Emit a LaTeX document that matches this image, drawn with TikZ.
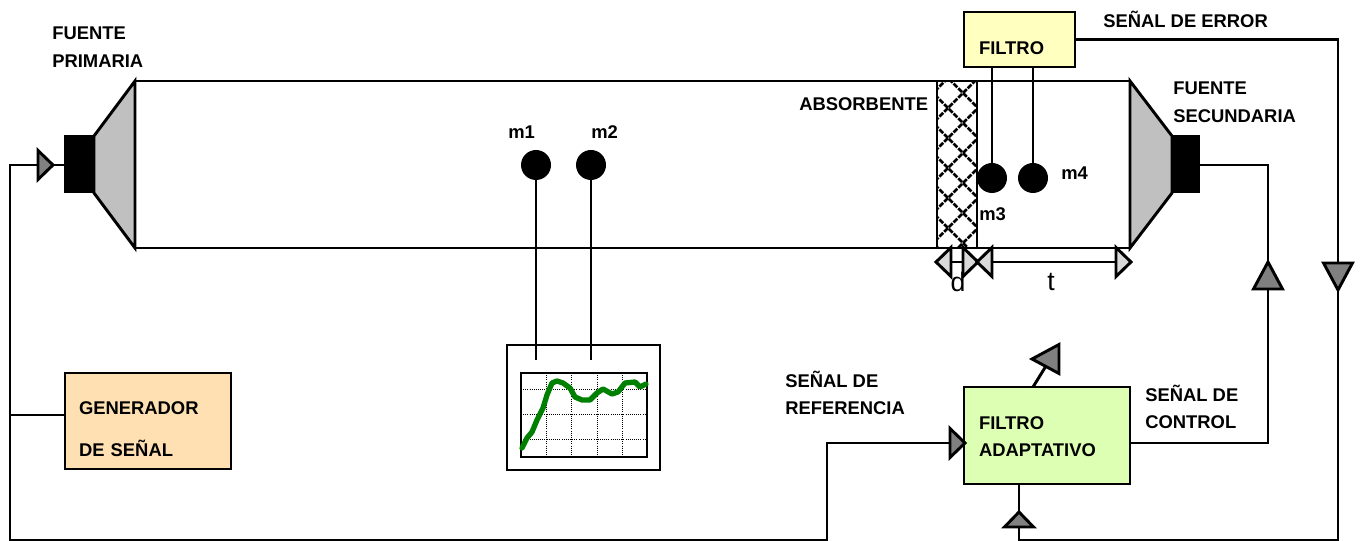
\documentclass[tikz,border=0pt]{standalone}
\usepackage{fontspec}
\setmainfont{Liberation Sans}
\usetikzlibrary{shapes.geometric}
\def\px{0.75pt}
\definecolor{colfiltro}{HTML}{FFFFBF}
\definecolor{colgen}{HTML}{FFE0B3}
\definecolor{coladap}{HTML}{DDFFB3}
\definecolor{colcono}{HTML}{C0C0C0}
\definecolor{colverde}{HTML}{008000}
\tikzset{
  linea/.style={line width=2.2pt,line join=miter},
  caja/.style={draw,linea,inner sep=0pt,outer sep=0pt,align=left,font=\fontsize{13.8}{16}\selectfont\bfseries},
  rotulo/.style={inner sep=0pt,anchor=west,font=\fontsize{13.8}{16}\selectfont\bfseries},
  cota/.style={inner sep=0pt,font=\fontsize{20}{22}\selectfont},
  micro/.style={circle,fill=black,inner sep=0pt,outer sep=0pt,minimum size=30*\px},
  flecha/.style={draw,linea,isosceles triangle,isosceles triangle stretches,inner sep=0pt,outer sep=0pt,anchor=apex,fill=gray,minimum width=29*\px,minimum height=15*\px},
  flechag/.style={flecha,minimum width=29*\px,minimum height=27*\px},
  flechac/.style={flecha,fill=black!15},
  malla/.style={line width=2pt,dash pattern=on 4pt off 1pt}
}
\begin{document}
\begin{tikzpicture}[x=\px,y=-\px]
  \useasboundingbox (0,0) rectangle (1361,541);

  % conducto y altavoces
  \node[caja,minimum width=995*\px,minimum height=167*\px] (conducto) at (632.5,164.5) {};
  \filldraw[linea,fill=colcono] (135,81) -- (94,136) -- (94,193) -- (135,248) -- cycle;
  \filldraw[linea,fill=colcono] (1130,81) -- (1172,136) -- (1172,193) -- (1130,248) -- cycle;
  \node[fill=black,inner sep=0pt,outer sep=0pt,minimum width=30*\px,minimum height=58*\px] (fuenteP) at (79,164) {};
  \node[fill=black,inner sep=0pt,outer sep=0pt,minimum width=28*\px,minimum height=58*\px] (fuenteS) at (1186,164) {};

  % absorbente
  \begin{scope}
    \clip (937,81) rectangle (977,248);
    \foreach \k in {-3,...,6} {
      \draw[malla] (930,126+30*\k) -- (990,66+30*\k);
      \draw[malla] (930,90+30*\k) -- (990,150+30*\k);
    }
  \end{scope}
  \node[caja,minimum width=40*\px,minimum height=167*\px] (absorb) at (957,164.5) {};

  % cajas
  \node[caja,fill=colfiltro,minimum width=111*\px,minimum height=55*\px,text width=81*\px,text height=22pt] (filtro) at (1019.5,39.5) {FILTRO};
  \node[caja,fill=colgen,minimum width=166*\px,minimum height=96*\px,text width=138*\px] (gen) at (148,421) {\rule{0pt}{22.3pt}GENERADOR\\[15.5pt]DE SEÑAL};
  \node[caja,fill=coladap,minimum width=166*\px,minimum height=97*\px,text width=136*\px] (adap) at (1047,435.5) {\rule{0pt}{11pt}FILTRO\\[4.25pt]ADAPTATIVO};

  % osciloscopio
  \node[caja,minimum width=153*\px,minimum height=125*\px] (osc) at (583.5,407.5) {};
  \foreach \x in {546,571,597,622} \draw[densely dotted,line width=0.6pt] (\x,373) -- (\x,457);
  \foreach \y in {389,414.5,439.5} \draw[densely dotted,line width=0.6pt] (521,\y) -- (647,\y);
  \node[caja,minimum width=126*\px,minimum height=84*\px] (pantalla) at (584,415) {};
  \draw[colverde,line width=4pt,line join=round,line cap=round]
    (522,448) -- (527,438) -- (532,432) -- (537,420) -- (543,408) -- (547,395) -- (552,383) -- (557,381) -- (563,383) -- (570,388) -- (575,397) -- (582,400) -- (590,400) -- (597,393) -- (603,389) -- (612,394) -- (618,392) -- (625,383) -- (635,382) -- (640,387) -- (646,384);

  % micros
  \node[micro] (m1c) at (536,165) {};
  \node[micro] (m2c) at (591,165) {};
  \node[micro] (m3c) at (992,178) {};
  \node[micro] (m4c) at (1033,178) {};
  \coordinate (s1) at (536,360);
  \coordinate (s2) at (591,360);
  \coordinate (e3) at (992,67);
  \coordinate (e4) at (1033,67);
  \draw[linea] (m1c) -- (s1);
  \draw[linea] (m2c) -- (s2);
  \draw[linea] (e3) -- (m3c);
  \draw[linea] (e4) -- (m4c);

  % flechas
  \node[flecha] (t1) at (53,165) {};
  \node[flecha] (t2) at (965,443) {};
  \node[flechag,shape border rotate=180] (t3) at (1032,359) {};
  \node[flecha,shape border rotate=90] (t4) at (1019,512) {};
  \node[flechag,shape border rotate=90] (t5) at (1268,262) {};
  \node[flechag,shape border rotate=270] (t6) at (1338,290) {};
  \node[flechac,shape border rotate=180] (d1) at (936,262) {};
  \node[flechac] (d2) at (978,262) {};
  \node[flechac,shape border rotate=180] (d3) at (977,262) {};
  \node[flechac] (d4) at (1131,262) {};
  \draw[linea] (d1) -- (d2);
  \draw[linea] (d3) -- (d4);

  % conexiones
  \coordinate (c1) at (10,165);
  \coordinate (c2) at (10,540);
  \coordinate (c3) at (827,540);
  \coordinate (c4) at (827,443);
  \coordinate (c5) at (10,415);
  \coordinate (c6) at (65,415);
  \coordinate (c7) at (1338,39.5);
  \coordinate (c8) at (1338,540);
  \coordinate (c9) at (1019,540);
  \coordinate (c10) at (1019,484);
  \coordinate (c11) at (1268,443);
  \coordinate (c12) at (1268,165);
  \coordinate (c13) at (1130,443);
  \coordinate (c14) at (1033,387);
  \coordinate (c15) at (64,165);
  \coordinate (c16) at (1200,165);
  \draw[linea] (c15) -- (t1) -- (c1) -- (c2) -- (c3) -- (c4) -- (t2);
  \draw[linea] (c5) -- (c6);
  \draw[linea] (filtro) -- (c7) -- (t6) -- (c8) -- (c9) -- (t4) -- (c10);
  \draw[linea] (c13) -- (c11) -- (t5) -- (c12) -- (c16);
  \draw[linea] (c14) -- (t3);

  % textos
  \node[rotulo] (l1) at (52,33) {FUENTE};
  \node[rotulo] (l2) at (52,61) {PRIMARIA};
  \node[rotulo] (l3) at (1103,19) {SEÑAL DE ERROR};
  \node[rotulo] (l4) at (799,104) {ABSORBENTE};
  \node[rotulo] (l5) at (508,132) {m1};
  \node[rotulo] (l6) at (591,132) {m2};
  \node[rotulo] (l7) at (979,214) {m3};
  \node[rotulo] (l8) at (1061,173) {m4};
  \node[rotulo] (l9) at (1173,88) {FUENTE};
  \node[rotulo] (l10) at (1173,116) {SECUNDARIA};
  \node[rotulo] (l11) at (785,379) {SEÑAL DE};
  \node[rotulo] (l12) at (785,408) {REFERENCIA};
  \node[rotulo] (l13) at (1145,393) {SEÑAL DE};
  \node[rotulo] (l14) at (1145,422) {CONTROL};
  \node[cota] (l15) at (958,282) {d};
  \node[cota] (l16) at (1051,282) {t};
\end{tikzpicture}
\end{document}
